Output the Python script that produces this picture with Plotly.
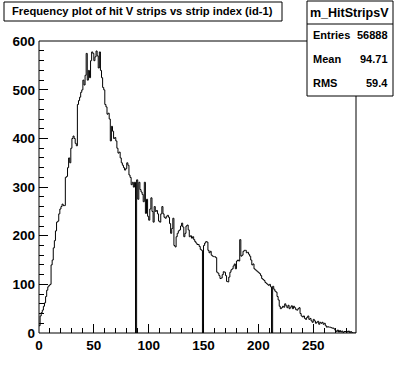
import plotly.graph_objects as go

# Counts per strip index bin (bin i spans [i, i+1))
counts = [
    15, 35, 42, 47, 55, 62, 75, 88, 95, 98,
    100, 140, 150, 175, 190, 210, 228, 230, 245, 255,
    260, 265, 262, 262, 320, 322, 340, 360, 350, 380,
    400, 405, 400, 390, 385, 470, 478, 485, 495, 500,
    520, 510, 530, 575, 520, 540, 525, 560, 578, 575,
    560, 568, 580, 570, 545, 578, 540, 525, 505, 500,
    470, 465, 450, 452, 440, 395, 425, 415, 400, 402,
    395, 380, 370, 372, 360, 350, 345, 340, 335, 338,
    350, 345, 325, 320, 305, 310, 300, 310, 0, 315,
    275, 310, 295, 290, 285, 270, 310, 246, 275, 240,
    232, 255, 278, 250, 228, 260, 250, 252, 245, 230,
    228, 245, 260, 245, 238, 236, 240, 242, 238, 225,
    205, 215, 236, 180, 177, 198, 205, 210, 212, 220,
    226, 218, 198, 205, 220, 222, 212, 198, 200, 195,
    198, 192, 188, 185, 182, 182, 178, 172, 170, 0,
    180, 185, 188, 187, 170, 165, 168, 160, 158, 157,
    157, 155, 125, 123, 118, 112, 113, 120, 126, 125,
    118, 106, 105, 115, 125, 130, 132, 138, 142, 132,
    148, 150, 148, 192, 158, 160, 168, 170, 170, 165,
    166, 162, 158, 150, 140, 142, 132, 130, 128, 126,
    124, 122, 118, 112, 110, 108, 104, 102, 100, 98,
    100, 95, 0, 96, 90, 86, 84, 75, 68, 55,
    50, 52, 55, 53, 60, 56, 52, 57, 50, 53,
    56, 50, 55, 52, 48, 47, 50, 52, 40, 35,
    33, 35, 30, 28, 32, 35, 28, 30, 25, 22,
    28, 25, 20, 22, 24, 18, 22, 20, 22, 18,
    20, 15, 12, 13, 12, 12, 11, 10, 10, 8,
    5, 3, 6, 2, 5, 2, 4, 1, 3, 3,
    4, 2, 4, 1, 3, 1, 0, 0, 0,
]

x_ticks = [0, 50, 100, 150, 200, 250]
y_ticks = [0, 100, 200, 300, 400, 500, 600]

hist_name = "m_HitStripsV"
title_text = "Frequency plot of hit V strips vs strip index (id-1)"
stat_labels = ["Entries", "Mean", "RMS"]
stat_values = ["56888", "94.71", "59.4"]

nb = len(counts)
edges = list(range(nb + 1))
ys = counts + [counts[-1]]

W, H = 396, 372
L, R, T, B = 39, 356, 41, 333  # frame in pixels


def px(xp):
    return (xp - L) / (R - L)


def py(yp):
    return (B - yp) / (B - T)


fig = go.Figure()
fig.add_trace(go.Scatter(
    x=edges, y=ys, mode="lines", line_shape="hv",
    line=dict(color="black", width=1), hoverinfo="skip", showlegend=False,
))

tickfont = dict(family="Liberation Sans", size=13.5, color="black", weight="bold")
fig.update_layout(
    width=W, height=H,
    margin=dict(l=L, r=W - R, t=T, b=H - B, pad=0),
    paper_bgcolor="white", plot_bgcolor="white",
    showlegend=False,
    xaxis=dict(
        range=[0, nb], tickvals=x_ticks, ticks="inside", ticklen=9,
        tickcolor="black", tickwidth=1, showgrid=False, zeroline=False,
        showline=False, tickfont=tickfont, ticklabelstandoff=2,
        minor=dict(ticks="inside", ticklen=5, dtick=10, tick0=0,
                   tickcolor="black", showgrid=False),
    ),
    yaxis=dict(
        range=[0, 600.5], tickvals=y_ticks, ticks="inside", ticklen=9,
        tickcolor="black", tickwidth=1, showgrid=False, zeroline=False,
        showline=False, tickfont=tickfont, ticklabelstandoff=3,
        minor=dict(ticks="inside", ticklen=5, dtick=20, tick0=0,
                   tickcolor="black", showgrid=False),
    ),
)

shapes = []
# frame
shapes.append(dict(type="rect", xref="paper", yref="paper", x0=0, x1=1, y0=0, y1=1,
                   line=dict(color="black", width=1), fillcolor="rgba(0,0,0,0)", layer="above"))
# title box
shapes.append(dict(type="rect", xref="paper", yref="paper",
                   x0=px(4), x1=px(282), y0=py(2), y1=py(21),
                   line=dict(color="black", width=1), fillcolor="white", layer="above"))
# stats box
shapes.append(dict(type="rect", xref="paper", yref="paper",
                   x0=px(307), x1=px(393), y0=py(1), y1=py(96),
                   line=dict(color="black", width=1), fillcolor="white", layer="above"))
shapes.append(dict(type="line", xref="paper", yref="paper",
                   x0=px(307), x1=px(393), y0=py(24), y1=py(24),
                   line=dict(color="black", width=1), layer="above"))
fig.update_layout(shapes=shapes)

afont = dict(family="Liberation Sans", color="black", weight="bold")
ann = []
ann.append(dict(text=title_text, xref="paper", yref="paper", x=px(142), y=py(11.5),
                xanchor="center", yanchor="middle", showarrow=False,
                font=dict(size=11.2, **afont)))
ann.append(dict(text=hist_name, xref="paper", yref="paper", x=px(349), y=py(13),
                xanchor="center", yanchor="middle", showarrow=False,
                font=dict(size=12.5, **afont)))
rows_y = [35, 59, 83]
for lab, val, yy in zip(stat_labels, stat_values, rows_y):
    ann.append(dict(text=lab, xref="paper", yref="paper", x=px(311), y=py(yy),
                    xanchor="left", yanchor="middle", showarrow=False,
                    font=dict(size=11, **afont)))
    ann.append(dict(text=val, xref="paper", yref="paper", x=px(390), y=py(yy),
                    xanchor="right", yanchor="middle", showarrow=False,
                    font=dict(size=11, **afont)))
fig.update_layout(annotations=ann)

fig.write_html("out.html", config={"displayModeBar": False})

# remove the default page margin so the figure sits at the window's top-left corner
with open("out.html", "r", encoding="utf-8") as f:
    html = f.read()
html = html.replace("<head>", "<head><style>html,body{margin:0;padding:0;overflow:hidden;}</style>", 1)
with open("out.html", "w", encoding="utf-8") as f:
    f.write(html)
